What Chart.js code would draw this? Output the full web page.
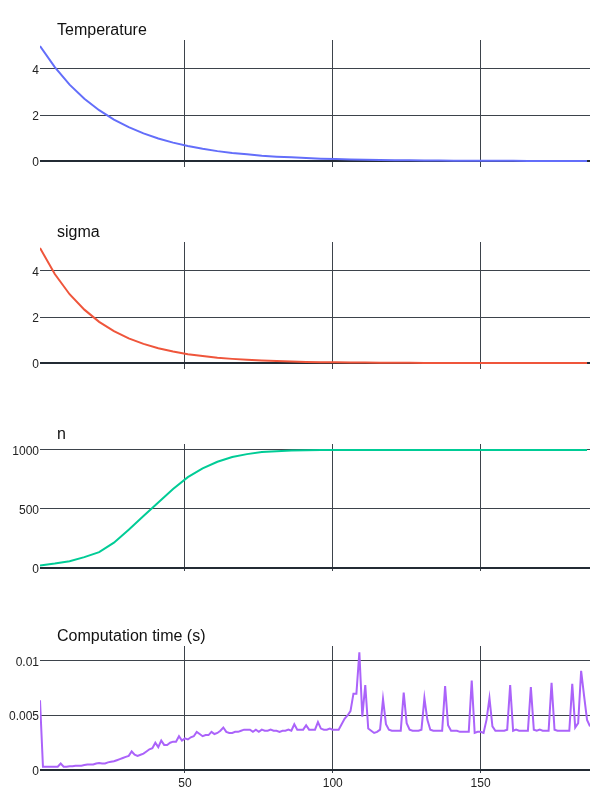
<!DOCTYPE html>
<html><head><meta charset="utf-8">
<script src="https://cdn.jsdelivr.net/npm/chart.js@4.4.1/dist/chart.umd.min.js"></script>
<style>
html,body{margin:0;padding:0;background:#fff;}
#wrap{position:relative;width:600px;height:800px;background:#fff;}
.panel{position:absolute;left:0;width:600px;}
canvas{display:block;}
</style></head><body>
<div id="wrap">
<div class="panel" style="top:0px;height:202px"><canvas id="c0" width="600" height="202"></canvas></div>
<div class="panel" style="top:202px;height:202px"><canvas id="c1" width="600" height="202"></canvas></div>
<div class="panel" style="top:404px;height:202px"><canvas id="c2" width="600" height="202"></canvas></div>
<div class="panel" style="top:606px;height:194px"><canvas id="c3" width="600" height="194"></canvas></div>
</div>
<script>
// ---- data ----
const sampleIter = [1,6,11,16,21,26,31,36,41,46,51,56,61,66,71,76,81,86,91,96,101,106,111,116,121,126,131,136,141,146,151,156,161,166,171,176,181,186];
const temperature = [5.00,4.08,3.32,2.71,2.21,1.80,1.47,1.20,0.98,0.80,0.65,0.53,0.43,0.35,0.29,0.23,0.19,0.16,0.13,0.10,0.084,0.069,0.056,0.046,0.037,0.030,0.025,0.020,0.016,0.013,0.011,0.009,0.007,0.006,0.005,0.004,0.003,0.003];
const sigma = [5.00,3.87,2.99,2.32,1.79,1.39,1.07,0.83,0.64,0.50,0.38,0.30,0.23,0.18,0.14,0.11,0.083,0.064,0.049,0.038,0.030,0.023,0.018,0.014,0.011,0.008,0.006,0.005,0.004,0.003,0.002,0.002,0.001,0.001,0.001,0.001,0.001,0.001];
const nValues = [22,38,57,92,135,215,325,440,555,670,770,845,900,940,965,982,990,995,998,999,1000,1000,1000,1000,1000,1000,1000,1000,1000,1000,1000,1000,1000,1000,1000,1000,1000,1000];
const compTime = [
0.0064,0.0003,0.0003,0.0003,0.0003,0.0003,0.0003,0.0006,0.0003,0.0003,
0.00035,0.00035,0.0004,0.0004,0.0004,0.00045,0.0005,0.0005,0.0005,0.0006,
0.00065,0.0006,0.0006,0.0007,0.00075,0.0008,0.0009,0.001,0.0011,0.0012,
0.0013,0.0017,0.0014,0.0013,0.0014,0.0015,0.0017,0.0019,0.002,0.0025,
0.0021,0.0027,0.0023,0.0023,0.0025,0.0026,0.0026,0.0031,0.0027,0.0029,
0.0028,0.003,0.0031,0.0035,0.0033,0.0031,0.0032,0.0032,0.0035,0.0033,
0.0034,0.0036,0.0039,0.0035,0.0034,0.0034,0.0035,0.0035,0.0036,0.0037,
0.0037,0.0037,0.0035,0.0037,0.0035,0.0037,0.0036,0.0036,0.0037,0.0036,
0.0036,0.0035,0.0036,0.0036,0.0037,0.0036,0.0042,0.0037,0.0037,0.0037,
0.0041,0.0037,0.0037,0.0037,0.0044,0.0038,0.0037,0.0037,0.0038,0.0037,
0.0037,0.0037,0.0042,0.0047,0.005,0.0054,0.007,0.007,0.0108,0.0049,
0.0078,0.0038,0.0036,0.0034,0.0035,0.0037,0.0065,0.0042,0.0037,0.0036,
0.0036,0.0036,0.0036,0.0071,0.0043,0.0037,0.0036,0.0036,0.0036,0.0037,
0.0066,0.0046,0.0037,0.0036,0.0036,0.0036,0.0036,0.0077,0.0041,0.0036,
0.0036,0.0036,0.0035,0.0035,0.0035,0.0035,0.0082,0.0034,0.0035,0.0035,
0.0034,0.0046,0.0066,0.004,0.0036,0.0036,0.0036,0.0036,0.0037,0.0078,
0.0036,0.0037,0.0036,0.0036,0.0036,0.0036,0.0076,0.0037,0.0036,0.0037,
0.0036,0.0036,0.0036,0.008,0.0037,0.0036,0.0036,0.0036,0.0036,0.0036,
0.0079,0.0039,0.0043,0.0091,0.0068,0.0046,0.004];
const compIter = compTime.map((_, i) => i + 1);
const xTicks = [50, 100, 150];
const tempTicks = [0, 2, 4];
const sigmaTicks = [0, 2, 4];
const nTicks = [0, 500, 1000];
const timeTicks = [0, 0.005, 0.01];
const titles = ['Temperature', 'sigma', 'n', 'Computation time (s)'];

// ---- drawing ----
const FONT = '"Liberation Sans", Arial, Helvetica, sans-serif';
const gridColor = '#3d434b';
const zeroColor = '#232b34';

const titlePlugin = {
  id: 'panelTitle',
  afterDraw(chart, args, opts) {
    const ctx = chart.ctx, a = chart.chartArea;
    ctx.save();
    ctx.font = '16px ' + FONT;
    ctx.fillStyle = '#111';
    ctx.textAlign = 'left';
    ctx.textBaseline = 'middle';
    ctx.fillText(opts.text, a.left + 17, a.top - 9.5);
    ctx.restore();
  }
};

function makePanel(id, title, xs, ys, color, yMin, yMax, yTickVals, showX, height) {
  const data = xs.map((x, i) => ({ x: x, y: ys[i] }));
  new Chart(document.getElementById(id), {
    type: 'line',
    data: { datasets: [{ data: data, borderColor: color, borderWidth: 2, pointRadius: 0, tension: 0, fill: false }] },
    options: {
      responsive: false, animation: false, events: [],
      layout: { padding: { top: 40, left: 0, right: 10, bottom: 0 } },
      plugins: { legend: { display: false }, tooltip: { enabled: false }, panelTitle: { text: title } },
      scales: {
        x: {
          type: 'linear', min: 1, max: 187,
          afterBuildTicks: s => { s.ticks = xTicks.map(v => ({ value: v })); },
          afterFit: s => { s.height = height - 167; s.paddingLeft = 0; s.paddingRight = 0; },
          grid: { color: gridColor, lineWidth: 1, drawTicks: false },
          border: { display: false },
          ticks: { display: showX, padding: 3, color: '#222', font: { family: FONT, size: 12 }, maxRotation: 0, autoSkip: false, callback: v => String(v) }
        },
        y: {
          type: 'linear', min: yMin, max: yMax,
          afterBuildTicks: s => { s.ticks = yTickVals.map(v => ({ value: v })); },
          afterFit: s => { s.width = 40; s.paddingTop = 0; s.paddingBottom = 0; },
          grid: {
            color: c => (c.tick && c.tick.value === 0) ? zeroColor : gridColor,
            lineWidth: c => (c.tick && c.tick.value === 0) ? 2 : 1,
            drawTicks: false
          },
          border: { display: false },
          ticks: { padding: 1, labelOffset: 1.5, color: '#222', font: { family: FONT, size: 12 }, callback: v => String(v) }
        }
      }
    },
    plugins: [titlePlugin]
  });
}

makePanel('c0', titles[0], sampleIter, temperature, '#636efa', -0.26, 5.26, tempTicks, false, 202);
makePanel('c1', titles[1], sampleIter, sigma, '#ef553b', -0.26, 5.26, sigmaTicks, false, 202);
makePanel('c2', titles[2], sampleIter, nValues, '#00cc96', -25.4, 1050.8, nTicks, false, 202);
makePanel('c3', titles[3], compIter, compTime, '#ab63fa', -0.000275, 0.011376, timeTicks, true, 194);
</script>
</body></html>
